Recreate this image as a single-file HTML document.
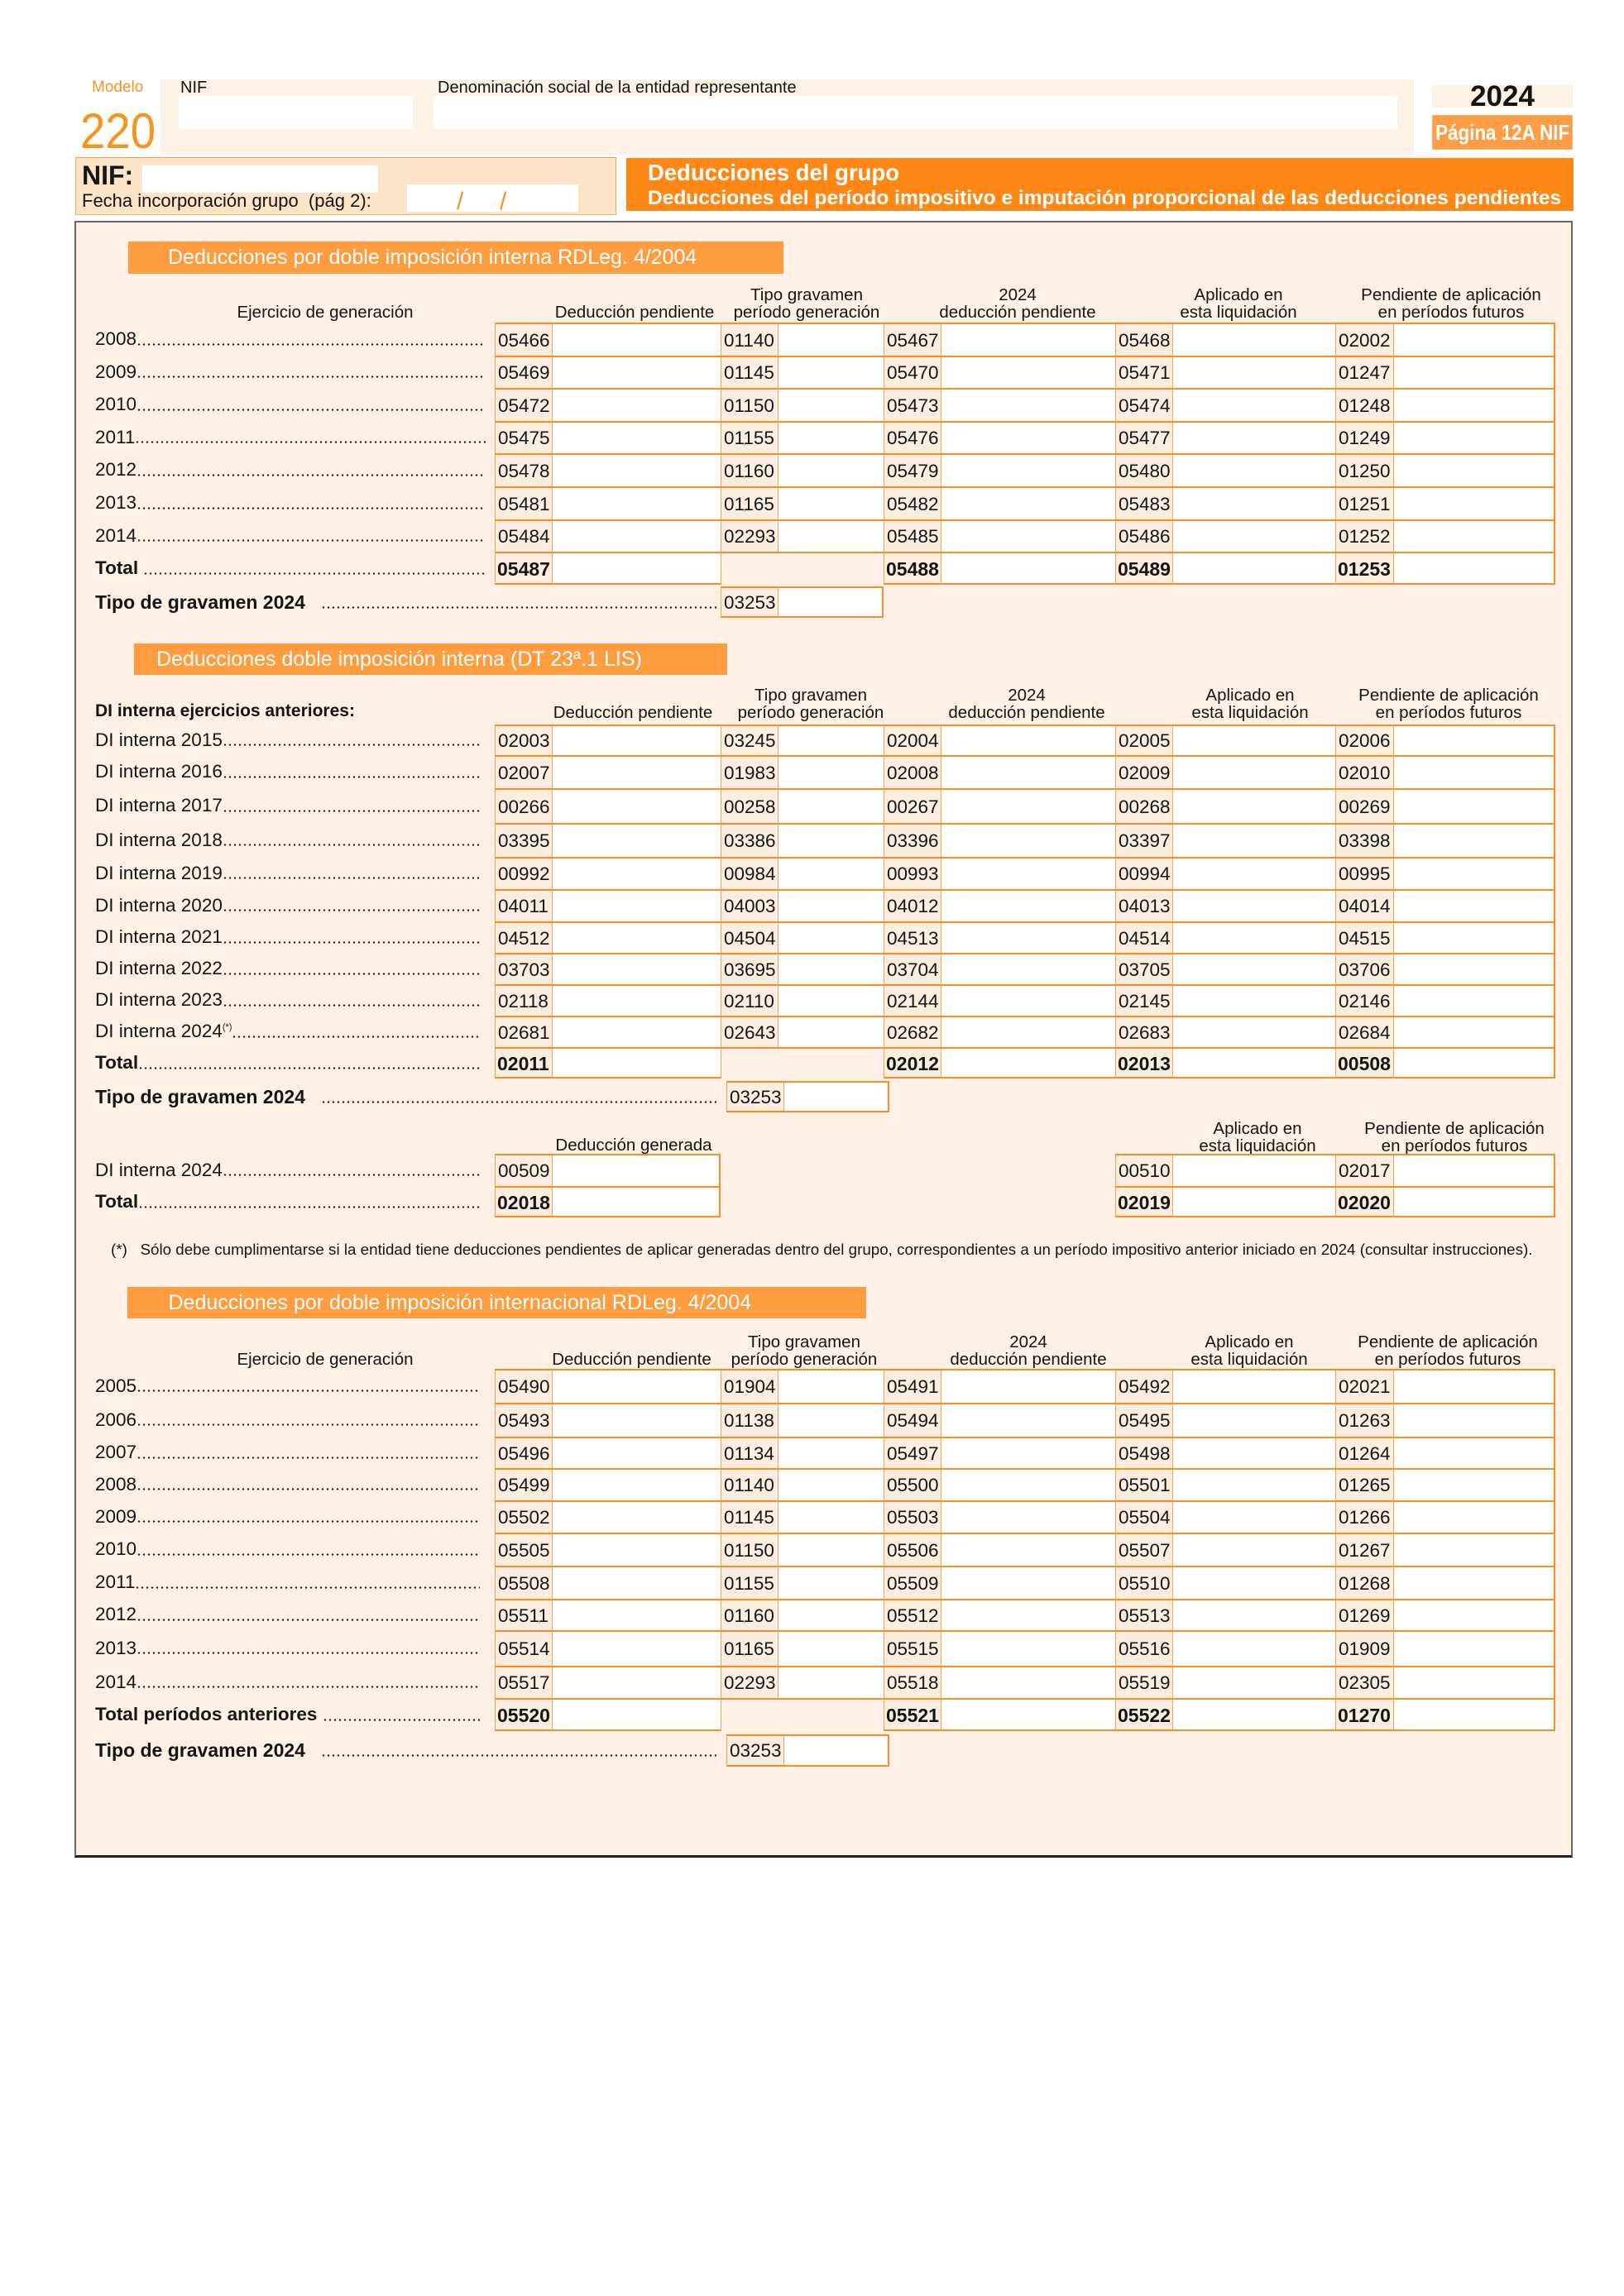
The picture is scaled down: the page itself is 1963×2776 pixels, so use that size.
<!DOCTYPE html>
<html><head><meta charset="utf-8">
<style>
*{margin:0;padding:0}
body{width:1963px;height:2776px;position:relative;background:#fff;font-family:"Liberation Sans",Arial,sans-serif;color:#151515;overflow:hidden}
.a{position:absolute;white-space:nowrap}
.tbl{position:absolute;left:598px;width:1282px;height:10px}
.r{position:absolute;left:0;width:1282px}
.r>*{position:absolute;top:0;bottom:0;box-sizing:border-box;border-top:2px solid #fb8d22;border-left:1.5px solid #f9a24f;font-size:22.5px;font-style:normal;font-weight:normal;text-decoration:none;display:flex;align-items:center;padding:2px 0 0 3px;color:#151515;line-height:1;white-space:nowrap}
.r>a{display:none}
.r>b{background:#fcede1}
.r>i{background:#fff}
.r>u{background:transparent}
.r>u+u{border-left:0}
.r>:nth-child(1){left:0;width:69px}
.r>:nth-child(2){left:69px;width:204px}
.r>:nth-child(3){left:273px;width:69px}
.r>:nth-child(4){left:342px;width:128px}
.r>:nth-child(5){left:470px;width:69px}
.r>:nth-child(6){left:539px;width:211px}
.r>:nth-child(7){left:750px;width:69px}
.r>:nth-child(8){left:819px;width:197px}
.r>:nth-child(9){left:1016px;width:70px}
.r>:nth-child(10){left:1086px;width:196px;border-right:2px solid #fb8d22}
.r.L>*{border-bottom:2px solid #fb8d22}
.r.L>u{border-bottom:0}
.r>.B{font-weight:bold;font-size:23px;padding-left:2px}
.r>.rb{border-right:2px solid #fb8d22}
.lb{position:absolute;left:115px;display:flex;font-size:22.5px;white-space:nowrap}
.lb s{flex:1;text-decoration:none;background:radial-gradient(circle,#222 1px,transparent 1.4px) 0 calc(50% + 6.3px)/6px 3px repeat-x}
.lb.B{font-weight:bold}
.h{position:absolute;width:400px;text-align:center;font-size:20.5px;line-height:21px;white-space:nowrap}
.sec{position:absolute;box-sizing:border-box;background:#fe9d40;color:#fff;font-size:25px;white-space:nowrap}
</style></head><body>

<!-- Top header -->
<div class="a" style="left:194px;top:96px;width:1515px;height:91px;background:#fdf0e4"></div>
<div class="a" style="left:111px;top:96px;font-size:19px;line-height:19px;color:#f7941d">Modelo</div>
<div class="a" style="left:97px;top:129px;font-size:60px;line-height:60px;color:#f7941d;transform:scaleX(.91);transform-origin:0 0">220</div>
<div class="a" style="left:218px;top:96px;font-size:20px;line-height:20px">NIF</div>
<div class="a" style="left:216px;top:116px;width:283px;height:40px;background:#fff"></div>
<div class="a" style="left:529px;top:96px;font-size:20px;line-height:20px">Denominación social de la entidad representante</div>
<div class="a" style="left:524px;top:116px;width:1165px;height:40px;background:#fff"></div>
<div class="a" style="left:1731px;top:103px;width:170px;height:27px;background:#fdf0e4"></div>
<div class="a" style="left:1731px;top:103px;width:170px;text-align:center;font-size:35px;line-height:27px;font-weight:bold">2024</div>
<div class="a" style="left:1731px;top:139px;width:170px;height:42px;background:#fd9d45;box-sizing:border-box;border:1px solid #fcb26f"></div>
<div class="a" style="left:1616px;top:139px;width:400px;height:42px;text-align:center;line-height:42px;font-size:26px;font-weight:bold;color:#fff"><span style="display:inline-block;transform:scaleX(.86)">Página 12A NIF</span></div>

<!-- NIF section -->
<div class="a" style="left:91px;top:190px;width:654px;height:70px;box-sizing:border-box;background:#fde3c8;border:1.5px solid #f9a455"></div>
<div class="a" style="left:99px;top:196px;font-size:32px;line-height:32px;font-weight:bold">NIF:</div>
<div class="a" style="left:172px;top:200px;width:285px;height:33px;background:#fff"></div>
<div class="a" style="left:99px;top:232px;font-size:22px;line-height:22px">Fecha incorporación grupo&nbsp; (pág 2):</div>
<div class="a" style="left:492px;top:223px;width:207px;height:33px;background:#fff"></div>
<div class="a" style="left:552px;top:229px;font-size:30px;line-height:30px;color:#f7941d">/</div>
<div class="a" style="left:604px;top:229px;font-size:30px;line-height:30px;color:#f7941d">/</div>

<!-- Title bar -->
<div class="a" style="left:757px;top:191px;width:1145px;height:64px;background:#ff8716"></div>
<div class="a" style="left:783px;top:195px;font-size:27.5px;line-height:28px;font-weight:bold;color:#fff">Deducciones del grupo</div>
<div class="a" style="left:783px;top:227px;font-size:24.5px;line-height:25px;font-weight:bold;color:#fff">Deducciones del período impositivo e imputación proporcional de las deducciones pendientes</div>

<!-- Content box -->
<div class="a" style="left:90px;top:267px;width:1811px;height:1979px;box-sizing:border-box;background:#fef0e4;border:2px solid #666;border-bottom:3px solid #222"></div>

<!-- ============ SECTION 1 ============ -->
<div class="sec" style="left:155px;top:292px;width:792px;height:39px;line-height:39px;padding-left:48px">Deducciones por doble imposición interna RDLeg. 4/2004</div>

<div class="h" style="left:193px;top:367px">Ejercicio de generación</div>
<div class="h" style="left:567px;top:367px">Deducción pendiente</div>
<div class="h" style="left:775px;top:346px">Tipo gravamen<br>período generación</div>
<div class="h" style="left:1030px;top:346px">2024<br>deducción pendiente</div>
<div class="h" style="left:1297px;top:346px">Aplicado en<br>esta liquidación</div>
<div class="h" style="left:1554px;top:346px">Pendiente de aplicación<br>en períodos futuros</div>

<div class="tbl" style="top:390px">
<div class="r" style="top:0;height:40px"><b>05466</b><i></i><b>01140</b><i></i><b>05467</b><i></i><b>05468</b><i></i><b>02002</b><i></i></div>
<div class="r" style="top:40px;height:39px"><b>05469</b><i></i><b>01145</b><i></i><b>05470</b><i></i><b>05471</b><i></i><b>01247</b><i></i></div>
<div class="r" style="top:79px;height:40px"><b>05472</b><i></i><b>01150</b><i></i><b>05473</b><i></i><b>05474</b><i></i><b>01248</b><i></i></div>
<div class="r" style="top:119px;height:39px"><b>05475</b><i></i><b>01155</b><i></i><b>05476</b><i></i><b>05477</b><i></i><b>01249</b><i></i></div>
<div class="r" style="top:158px;height:40px"><b>05478</b><i></i><b>01160</b><i></i><b>05479</b><i></i><b>05480</b><i></i><b>01250</b><i></i></div>
<div class="r" style="top:198px;height:40px"><b>05481</b><i></i><b>01165</b><i></i><b>05482</b><i></i><b>05483</b><i></i><b>01251</b><i></i></div>
<div class="r" style="top:238px;height:39px"><b>05484</b><i></i><b>02293</b><i></i><b>05485</b><i></i><b>05486</b><i></i><b>01252</b><i></i></div>
<div class="r L" style="top:277px;height:40px"><b class="B">05487</b><i></i><u></u><u></u><b class="B">05488</b><i></i><b class="B">05489</b><i></i><b class="B">01253</b><i></i></div>
</div>
<div class="tbl" style="top:709px"><div class="r L" style="top:0;height:38px"><a></a><a></a><b>03253</b><i class="rb"></i></div></div>

<div class="lb" style="top:390px;height:40px;line-height:40px;width:472px"><span>2008</span><s></s></div>
<div class="lb" style="top:430px;height:39px;line-height:39px;width:472px"><span>2009</span><s></s></div>
<div class="lb" style="top:469px;height:40px;line-height:40px;width:472px"><span>2010</span><s></s></div>
<div class="lb" style="top:509px;height:39px;line-height:39px;width:472px"><span>2011</span><s></s></div>
<div class="lb" style="top:548px;height:40px;line-height:40px;width:472px"><span>2012</span><s></s></div>
<div class="lb" style="top:588px;height:40px;line-height:40px;width:472px"><span>2013</span><s></s></div>
<div class="lb" style="top:628px;height:39px;line-height:39px;width:472px"><span>2014</span><s></s></div>
<div class="lb B" style="top:667px;height:40px;line-height:40px;width:472px"><span>Total&nbsp;</span><s></s></div>
<div class="lb B" style="top:709px;height:38px;line-height:38px;width:751px;font-size:23px"><span>Tipo de gravamen 2024&nbsp;&nbsp;&nbsp;</span><s></s></div>

<!-- ============ SECTION 2 ============ -->
<div class="sec" style="left:162px;top:778px;width:717px;height:38px;line-height:38px;padding-left:27px">Deducciones doble imposición interna (DT 23ª.1 LIS)</div>

<div class="a" style="left:115px;top:848.5px;font-size:21px;line-height:21px;font-weight:bold">DI interna ejercicios anteriores:</div>
<div class="h" style="left:565px;top:850.5px">Deducción pendiente</div>
<div class="h" style="left:780px;top:829.5px">Tipo gravamen<br>período generación</div>
<div class="h" style="left:1041px;top:829.5px">2024<br>deducción pendiente</div>
<div class="h" style="left:1311px;top:829.5px">Aplicado en<br>esta liquidación</div>
<div class="h" style="left:1551px;top:829.5px">Pendiente de aplicación<br>en períodos futuros</div>

<div class="tbl" style="top:876px">
<div class="r" style="top:0;height:37px"><b>02003</b><i></i><b>03245</b><i></i><b>02004</b><i></i><b>02005</b><i></i><b>02006</b><i></i></div>
<div class="r" style="top:37px;height:40px"><b>02007</b><i></i><b>01983</b><i></i><b>02008</b><i></i><b>02009</b><i></i><b>02010</b><i></i></div>
<div class="r" style="top:77px;height:42px"><b>00266</b><i></i><b>00258</b><i></i><b>00267</b><i></i><b>00268</b><i></i><b>00269</b><i></i></div>
<div class="r" style="top:119px;height:41px"><b>03395</b><i></i><b>03386</b><i></i><b>03396</b><i></i><b>03397</b><i></i><b>03398</b><i></i></div>
<div class="r" style="top:160px;height:39px"><b>00992</b><i></i><b>00984</b><i></i><b>00993</b><i></i><b>00994</b><i></i><b>00995</b><i></i></div>
<div class="r" style="top:199px;height:39px"><b>04011</b><i></i><b>04003</b><i></i><b>04012</b><i></i><b>04013</b><i></i><b>04014</b><i></i></div>
<div class="r" style="top:238px;height:38px"><b>04512</b><i></i><b>04504</b><i></i><b>04513</b><i></i><b>04514</b><i></i><b>04515</b><i></i></div>
<div class="r" style="top:276px;height:38px"><b>03703</b><i></i><b>03695</b><i></i><b>03704</b><i></i><b>03705</b><i></i><b>03706</b><i></i></div>
<div class="r" style="top:314px;height:38px"><b>02118</b><i></i><b>02110</b><i></i><b>02144</b><i></i><b>02145</b><i></i><b>02146</b><i></i></div>
<div class="r" style="top:352px;height:38px"><b>02681</b><i></i><b>02643</b><i></i><b>02682</b><i></i><b>02683</b><i></i><b>02684</b><i></i></div>
<div class="r L" style="top:390px;height:38px"><b class="B">02011</b><i></i><u></u><u></u><b class="B">02012</b><i></i><b class="B">02013</b><i></i><b class="B">00508</b><i></i></div>
</div>
<div class="tbl" style="top:1307px"><div class="r L" style="top:0;left:7px;height:38px"><a></a><a></a><b>03253</b><i class="rb"></i></div></div>

<div class="lb" style="top:876px;height:37px;line-height:37px;width:465px"><span>DI interna 2015</span><s></s></div>
<div class="lb" style="top:913px;height:40px;line-height:40px;width:465px"><span>DI interna 2016</span><s></s></div>
<div class="lb" style="top:953px;height:42px;line-height:42px;width:465px"><span>DI interna 2017</span><s></s></div>
<div class="lb" style="top:995px;height:41px;line-height:41px;width:465px"><span>DI interna 2018</span><s></s></div>
<div class="lb" style="top:1036px;height:39px;line-height:39px;width:465px"><span>DI interna 2019</span><s></s></div>
<div class="lb" style="top:1075px;height:39px;line-height:39px;width:465px"><span>DI interna 2020</span><s></s></div>
<div class="lb" style="top:1114px;height:38px;line-height:38px;width:465px"><span>DI interna 2021</span><s></s></div>
<div class="lb" style="top:1152px;height:38px;line-height:38px;width:465px"><span>DI interna 2022</span><s></s></div>
<div class="lb" style="top:1190px;height:38px;line-height:38px;width:465px"><span>DI interna 2023</span><s></s></div>
<div class="lb" style="top:1228px;height:38px;line-height:38px;width:465px"><span>DI interna 2024<sup style="font-size:11px;vertical-align:9px;line-height:0">(*)</sup></span><s></s></div>
<div class="lb B" style="top:1266px;height:38px;line-height:38px;width:465px"><span>Total</span><s></s></div>
<div class="lb B" style="top:1307px;height:38px;line-height:38px;width:751px;font-size:23px"><span>Tipo de gravamen 2024&nbsp;&nbsp;&nbsp;</span><s></s></div>

<div class="h" style="left:566px;top:1373.5px">Deducción generada</div>
<div class="h" style="left:1320px;top:1353.5px">Aplicado en<br>esta liquidación</div>
<div class="h" style="left:1558px;top:1353.5px">Pendiente de aplicación<br>en períodos futuros</div>

<div class="tbl" style="top:1395px">
<div class="r" style="top:0;height:39px"><b>00509</b><i class="rb"></i><a></a><a></a><a></a><a></a><b>00510</b><i></i><b>02017</b><i></i></div>
<div class="r L" style="top:39px;height:38px"><b class="B">02018</b><i class="rb"></i><a></a><a></a><a></a><a></a><b class="B">02019</b><i></i><b class="B">02020</b><i></i></div>
</div>
<div class="lb" style="top:1395px;height:39px;line-height:39px;width:465px"><span>DI interna 2024</span><s></s></div>
<div class="lb B" style="top:1434px;height:38px;line-height:38px;width:465px"><span>Total</span><s></s></div>

<div class="a" style="left:134px;top:1500.5px;font-size:18.8px;line-height:19px">(*)&nbsp;&nbsp; Sólo debe cumplimentarse si la entidad tiene deducciones pendientes de aplicar generadas dentro del grupo, correspondientes a un período impositivo anterior iniciado en 2024 (consultar instrucciones).</div>

<!-- ============ SECTION 3 ============ -->
<div class="sec" style="left:154px;top:1556px;width:893px;height:38px;line-height:38px;padding-left:49.5px">Deducciones por doble imposición internacional RDLeg. 4/2004</div>

<div class="h" style="left:193px;top:1632.5px">Ejercicio de generación</div>
<div class="h" style="left:563.5px;top:1632.5px">Deducción pendiente</div>
<div class="h" style="left:772px;top:1611.5px">Tipo gravamen<br>período generación</div>
<div class="h" style="left:1043px;top:1611.5px">2024<br>deducción pendiente</div>
<div class="h" style="left:1310px;top:1611.5px">Aplicado en<br>esta liquidación</div>
<div class="h" style="left:1550px;top:1611.5px">Pendiente de aplicación<br>en períodos futuros</div>

<div class="tbl" style="top:1655px">
<div class="r" style="top:0;height:41px"><b>05490</b><i></i><b>01904</b><i></i><b>05491</b><i></i><b>05492</b><i></i><b>02021</b><i></i></div>
<div class="r" style="top:41px;height:41px"><b>05493</b><i></i><b>01138</b><i></i><b>05494</b><i></i><b>05495</b><i></i><b>01263</b><i></i></div>
<div class="r" style="top:82px;height:38px"><b>05496</b><i></i><b>01134</b><i></i><b>05497</b><i></i><b>05498</b><i></i><b>01264</b><i></i></div>
<div class="r" style="top:120px;height:39px"><b>05499</b><i></i><b>01140</b><i></i><b>05500</b><i></i><b>05501</b><i></i><b>01265</b><i></i></div>
<div class="r" style="top:159px;height:39px"><b>05502</b><i></i><b>01145</b><i></i><b>05503</b><i></i><b>05504</b><i></i><b>01266</b><i></i></div>
<div class="r" style="top:198px;height:40px"><b>05505</b><i></i><b>01150</b><i></i><b>05506</b><i></i><b>05507</b><i></i><b>01267</b><i></i></div>
<div class="r" style="top:238px;height:40px"><b>05508</b><i></i><b>01155</b><i></i><b>05509</b><i></i><b>05510</b><i></i><b>01268</b><i></i></div>
<div class="r" style="top:278px;height:38px"><b>05511</b><i></i><b>01160</b><i></i><b>05512</b><i></i><b>05513</b><i></i><b>01269</b><i></i></div>
<div class="r" style="top:316px;height:43px"><b>05514</b><i></i><b>01165</b><i></i><b>05515</b><i></i><b>05516</b><i></i><b>01909</b><i></i></div>
<div class="r" style="top:359px;height:39px"><b>05517</b><i></i><b>02293</b><i></i><b>05518</b><i></i><b>05519</b><i></i><b>02305</b><i></i></div>
<div class="r L" style="top:398px;height:40px"><b class="B">05520</b><i></i><u></u><u></u><b class="B">05521</b><i></i><b class="B">05522</b><i></i><b class="B">01270</b><i></i></div>
</div>
<div class="tbl" style="top:2097px"><div class="r L" style="top:0;left:7px;height:39px"><a></a><a></a><b>03253</b><i class="rb"></i></div></div>

<div class="lb" style="top:1655px;height:41px;line-height:41px;width:465px"><span>2005</span><s></s></div>
<div class="lb" style="top:1696px;height:41px;line-height:41px;width:465px"><span>2006</span><s></s></div>
<div class="lb" style="top:1737px;height:38px;line-height:38px;width:465px"><span>2007</span><s></s></div>
<div class="lb" style="top:1775px;height:39px;line-height:39px;width:465px"><span>2008</span><s></s></div>
<div class="lb" style="top:1814px;height:39px;line-height:39px;width:465px"><span>2009</span><s></s></div>
<div class="lb" style="top:1853px;height:40px;line-height:40px;width:465px"><span>2010</span><s></s></div>
<div class="lb" style="top:1893px;height:40px;line-height:40px;width:465px"><span>2011</span><s></s></div>
<div class="lb" style="top:1933px;height:38px;line-height:38px;width:465px"><span>2012</span><s></s></div>
<div class="lb" style="top:1971px;height:43px;line-height:43px;width:465px"><span>2013</span><s></s></div>
<div class="lb" style="top:2014px;height:39px;line-height:39px;width:465px"><span>2014</span><s></s></div>
<div class="lb B" style="top:2053px;height:40px;line-height:40px;width:465px"><span>Total períodos anteriores&nbsp;</span><s></s></div>
<div class="lb B" style="top:2097px;height:39px;line-height:39px;width:751px;font-size:23px"><span>Tipo de gravamen 2024&nbsp;&nbsp;&nbsp;</span><s></s></div>

</body></html>
